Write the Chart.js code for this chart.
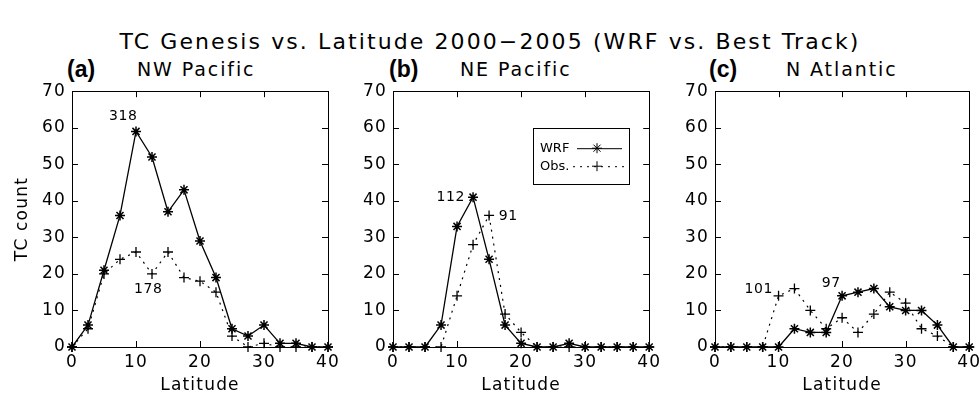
<!DOCTYPE html>
<html>
<head>
<meta charset="utf-8">
<script src="https://cdn.jsdelivr.net/npm/chart.js@4.4.1/dist/chart.umd.min.js"></script>
<style>
    html, body { margin: 0; padding: 0; background: #fff; overflow: hidden; }
    body { width: 980px; height: 398px; position: relative; font-family: "DejaVu Sans", sans-serif; color: #000; }
    canvas { position: absolute; }
    #title { position: absolute; left: 0; top: 28px; width: 980px; text-align: center; font-size: 22px; line-height: 28px; letter-spacing: 2.1px; }
    .tag { position: absolute; top: 56px; font-family: "Liberation Sans", Arial, sans-serif; font-weight: bold; font-size: 23px; line-height: 26px; }
    .region { position: absolute; top: 57px; font-size: 19px; line-height: 24px; white-space: nowrap; letter-spacing: 1.9px; }
</style>
</head>
<body>

<div id="title">TC Genesis vs. Latitude 2000−2005 (WRF vs. Best Track)</div>

<div class="tag" style="left:67px">(a)</div>
<div class="region" style="left:137px">NW Pacific</div>
<div class="tag" style="left:389px">(b)</div>
<div class="region" style="left:460px">NE Pacific</div>
<div class="tag" style="left:709px">(c)</div>
<div class="region" style="left:786px">N Atlantic</div>

<canvas id="nwChart" width="345" height="323" style="left:0px;top:75px"></canvas>
<canvas id="neChart" width="312" height="323" style="left:353px;top:75px"></canvas>
<canvas id="naChart" width="310" height="323" style="left:675px;top:75px"></canvas>

<script>
/* ===============================
   Data
=============================== */

const latitudes = [0, 2.5, 5, 7.5, 10, 12.5, 15, 17.5, 20, 22.5, 25, 27.5, 30, 32.5, 35, 37.5, 40];

const nwWrf = [0, 6, 21, 36, 59, 52, 37, 43, 29, 19, 5, 3, 6, 1, 1, 0, 0];
const nwObs = [0, 5, 20, 24, 26, 20, 26, 19, 18, 15, 3, 0, 1, 0, 0, 0, 0];

const neWrf = [0, 0, 0, 6, 33, 41, 24, 6, 1, 0, 0, 1, 0, 0, 0, 0, 0];
const neObs = [0, 0, 0, 0, 14, 28, 36, 9, 4, 0, 0, 0, 0, 0, 0, 0, 0];

const naWrf = [0, 0, 0, 0, 0, 5, 4, 4, 14, 15, 16, 11, 10, 10, 6, 0, 0];
const naObs = [0, 0, 0, 0, 14, 16, 10, 5, 8, 4, 9, 15, 12, 5, 3, 0, 0];

const xTicks = [0, 10, 20, 30, 40];
const yTicks = [0, 10, 20, 30, 40, 50, 60, 70];

const FONT = "DejaVu Sans";

/* ===============================
   Frame, inward ticks, notes, legend
=============================== */

const framePlugin = {
    id: "frame",
    beforeDraw(chart) {
        chart.ctx.letterSpacing = "1.2px";
    },
    afterDraw(chart, args, opts) {
        const ctx = chart.ctx;
        const a = chart.chartArea;
        const x = chart.scales.x;
        const y = chart.scales.y;

        ctx.save();
        ctx.strokeStyle = "#000";
        ctx.lineWidth = 1;
        ctx.setLineDash([]);

        ctx.strokeRect(Math.round(a.left) + 0.5, Math.round(a.top) + 0.5,
            Math.round(a.right - a.left), Math.round(a.bottom - a.top));

        ctx.beginPath();
        xTicks.forEach(function (v) {
            const px = Math.round(x.getPixelForValue(v)) + 0.5;
            ctx.moveTo(px, a.bottom); ctx.lineTo(px, a.bottom - 6);
            ctx.moveTo(px, a.top); ctx.lineTo(px, a.top + 6);
        });
        yTicks.forEach(function (v) {
            const py = Math.round(y.getPixelForValue(v)) + 0.5;
            ctx.moveTo(a.left, py); ctx.lineTo(a.left + 6, py);
            ctx.moveTo(a.right, py); ctx.lineTo(a.right - 6, py);
        });
        ctx.stroke();

        ctx.fillStyle = "#000";
        ctx.letterSpacing = "0.6px";
        ctx.font = "14px '" + FONT + "'";
        ctx.textAlign = "center";
        ctx.textBaseline = "middle";
        (opts.notes || []).forEach(function (n) {
            ctx.fillText(n.text, x.getPixelForValue(n.x), y.getPixelForValue(n.y));
        });

        if (opts.legend) {
            const L = opts.legend;
            const bx = a.left + L.left;
            const by = a.top + L.top;
            ctx.strokeRect(Math.round(bx) + 0.5, Math.round(by) + 0.5, L.width, L.height);

            ctx.letterSpacing = "0px";
            ctx.font = "13px '" + FONT + "'";
            ctx.textAlign = "left";
            ctx.fillText("WRF", bx + 7, by + 20);
            ctx.fillText("Obs.", bx + 7, by + 38);

            ctx.beginPath();
            ctx.moveTo(bx + 44, by + 20.5); ctx.lineTo(bx + 89, by + 20.5);
            ctx.stroke();
            ctx.setLineDash([2, 5]);
            ctx.beginPath();
            ctx.moveTo(bx + 40, by + 38.5); ctx.lineTo(bx + 91, by + 38.5);
            ctx.stroke();
            ctx.setLineDash([]);

            Chart.helpers.drawPoint(ctx, { pointStyle: "star", radius: 5, borderWidth: 1.4 }, bx + 64, by + 20);
            Chart.helpers.drawPoint(ctx, { pointStyle: "cross", radius: 5, borderWidth: 1.3 }, bx + 64, by + 38);
        }

        ctx.restore();
    }
};

/* ===============================
   Panel builder
=============================== */

function toPoints(values) {
    return latitudes.map(function (lat, i) {
        return { x: lat, y: values[i] };
    });
}

function makePanel(id, wrf, obs, axisWidth, rightPad, showYTitle, frameOpts) {

    new Chart(document.getElementById(id), {

        type: "line",

        data: {
            datasets: [
                {
                    label: "WRF",
                    data: toPoints(wrf),
                    borderColor: "#000",
                    backgroundColor: "#000",
                    borderWidth: 1.3,
                    pointStyle: "star",
                    pointRadius: 5,
                    pointBorderWidth: 1.5,
                    tension: 0,
                    clip: false
                },
                {
                    label: "Obs.",
                    data: toPoints(obs),
                    borderColor: "#000",
                    backgroundColor: "#000",
                    borderWidth: 1.2,
                    borderDash: [2, 5],
                    pointStyle: "cross",
                    pointRadius: 5,
                    pointBorderWidth: 1.3,
                    tension: 0,
                    clip: false
                }
            ]
        },

        options: {
            responsive: false,
            animation: false,
            events: [],
            layout: {
                padding: { top: 10, right: rightPad, bottom: 0, left: 0 }
            },
            plugins: {
                legend: { display: false },
                tooltip: { enabled: false },
                frame: frameOpts
            },
            scales: {
                x: {
                    type: "linear",
                    min: 0,
                    max: 40,
                    afterBuildTicks: function (scale) {
                        scale.ticks = xTicks.map(function (v) { return { value: v }; });
                    },
                    afterFit: function (scale) { scale.height = 51; },
                    grid: { display: false, drawTicks: false },
                    border: { display: false },
                    ticks: {
                        color: "#000",
                        padding: 5,
                        maxRotation: 0,
                        font: { family: FONT, size: 17 }
                    },
                    title: {
                        display: true,
                        text: "Latitude",
                        color: "#000",
                        padding: { top: 0, bottom: 2 },
                        font: { family: FONT, size: 17 }
                    }
                },
                y: {
                    type: "linear",
                    min: 0,
                    max: 70,
                    afterBuildTicks: function (scale) {
                        scale.ticks = yTicks.map(function (v) { return { value: v }; });
                    },
                    afterFit: function (scale) { scale.width = axisWidth; },
                    grid: { display: false, drawTicks: false },
                    border: { display: false },
                    ticks: {
                        color: "#000",
                        padding: 6,
                        font: { family: FONT, size: 17 }
                    },
                    title: {
                        display: showYTitle,
                        text: "TC count",
                        color: "#000",
                        padding: { top: 12, bottom: 0 },
                        font: { family: FONT, size: 17 }
                    }
                }
            }
        },

        plugins: [framePlugin]

    });

}

/* ===============================
   Three panels
=============================== */

makePanel("nwChart", nwWrf, nwObs, 72, 17, true, {
    notes: [
        { text: "318", x: 8.0, y: 63 },
        { text: "178", x: 11.9, y: 15.8 }
    ]
});

makePanel("neChart", neWrf, neObs, 40, 15, false, {
    notes: [
        { text: "112", x: 9.0, y: 40.9 },
        { text: "91", x: 18.0, y: 35.8 }
    ],
    legend: { left: 140, top: 37, width: 96, height: 56 }
});

makePanel("naChart", naWrf, naObs, 40, 15, false, {
    notes: [
        { text: "101", x: 6.9, y: 15.8 },
        { text: "97", x: 18.3, y: 17.4 }
    ]
});
</script>

</body>
</html>
